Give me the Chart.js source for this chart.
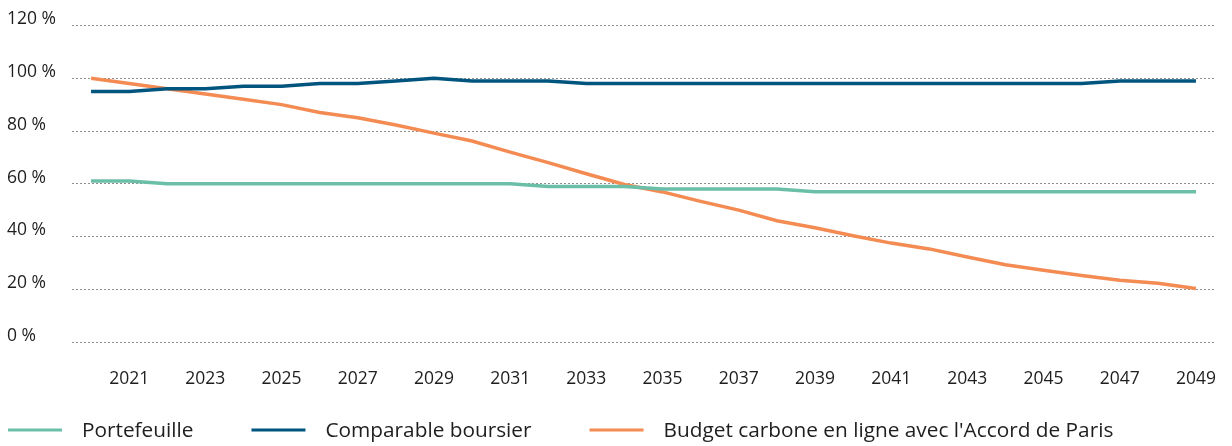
<!DOCTYPE html>
<html>
<head>
<meta charset="utf-8">
<script src="https://cdn.jsdelivr.net/npm/chart.js@4/dist/chart.umd.min.js"></script>
<style>
  html, body { margin: 0; padding: 0; background: #ffffff; }
  #wrap { width: 1232px; height: 446px; position: relative; }
</style>
</head>
<body>
<div id="wrap"><canvas id="chart"></canvas></div>
<script>
// ---- Data ----
const years = ['2020','2021','2022','2023','2024','2025','2026','2027','2028','2029',
               '2030','2031','2032','2033','2034','2035','2036','2037','2038','2039',
               '2040','2041','2042','2043','2044','2045','2046','2047','2048','2049'];
const xTickLabels = ['2021','2023','2025','2027','2029','2031','2033','2035','2037','2039',
                     '2041','2043','2045','2047','2049'];
const yTickValues = [0, 20, 40, 60, 80, 100, 120];

const seriesNames = ['Portefeuille', 'Comparable boursier', "Budget carbone en ligne avec l'Accord de Paris"];

const portefeuille = [61, 61, 60, 60, 60, 60, 60, 60, 60, 60,
                      60, 60, 59, 59, 59, 58, 58, 58, 58, 57,
                      57, 57, 57, 57, 57, 57, 57, 57, 57, 57];
const comparableBoursier = [95, 95, 96, 96, 97, 97, 98, 98, 99, 100,
                            99, 99, 99, 98, 98, 98, 98, 98, 98, 98,
                            98, 98, 98, 98, 98, 98, 98, 99, 99, 99];
const budgetCarbone = [100, 98, 96, 94, 92, 90, 87, 85, 82.3, 79.2,
                       76.2, 72, 68, 63.8, 59.7, 56.9, 53.3, 50, 46, 43.3,
                       40.3, 37.5, 35.3, 32.2, 29.3, 27.2, 25.2, 23.4, 22.3, 20.3];

const colors = ['#6bbfa8', '#00557f', '#f38b53'];

// ---- Styles ----
const FONT = "'Open Sans', 'Noto Sans', sans-serif";
const TEXT_COLOR = '#1e1e1e';

const legendPlugin = {
  id: 'bottomLegend',
  afterDraw(chart, args, opts) {
    const ctx = chart.ctx;
    ctx.save();
    ctx.font = opts.fontSize + 'px ' + FONT;
    ctx.textBaseline = 'middle';
    ctx.textAlign = 'left';
    let x = opts.x;
    const y = opts.y;
    chart.data.datasets.forEach(ds => {
      ctx.strokeStyle = ds.borderColor;
      ctx.lineWidth = opts.lineWidth;
      ctx.beginPath();
      ctx.moveTo(x, y);
      ctx.lineTo(x + opts.sampleWidth, y);
      ctx.stroke();
      x += opts.sampleWidth + opts.textGap;
      ctx.fillStyle = TEXT_COLOR;
      ctx.fillText(ds.label, x, y + 1);
      x += ctx.measureText(ds.label).width + opts.itemGap;
    });
    ctx.restore();
  }
};

const datasets = [portefeuille, comparableBoursier, budgetCarbone].map((vals, i) => ({
  label: seriesNames[i],
  data: vals,
  borderColor: colors[i],
  backgroundColor: colors[i],
  borderWidth: 3.5,
  pointRadius: 0,
  pointHoverRadius: 0,
  tension: 0,
  fill: false
}));

new Chart(document.getElementById('chart'), {
  type: 'line',
  data: { labels: years, datasets },
  plugins: [legendPlugin],
  options: {
    responsive: true,
    maintainAspectRatio: false,
    animation: false,
    layout: { padding: { left: 7, right: 17, top: 24, bottom: 54 } },
    plugins: {
      legend: { display: false },
      tooltip: { enabled: false },
      bottomLegend: { x: 8, y: 430, sampleWidth: 54, textGap: 20, itemGap: 58, lineWidth: 3, fontSize: 20.8 }
    },
    scales: {
      x: {
        type: 'category',
        offset: true,
        grid: { display: false, drawTicks: false },
        border: { display: false },
        afterFit(scale) { scale.height = 50; scale.paddingLeft = 0; scale.paddingRight = 0; },
        ticks: {
          autoSkip: false,
          maxRotation: 0,
          minRotation: 0,
          padding: 27,
          color: TEXT_COLOR,
          font: { family: FONT, size: 17.5 },
          callback(value) {
            const lab = this.getLabelForValue(value);
            return xTickLabels.includes(lab) ? lab : '';
          }
        }
      },
      y: {
        min: 0,
        max: 120,
        afterFit(scale) { scale.width = 65; },
        afterBuildTicks(scale) { scale.ticks = yTickValues.map(v => ({ value: v })); },
        border: { display: false, dash: [2, 2] },
        grid: {
          color: '#8f8f8f',
          lineWidth: 1,
          drawTicks: false
        },
        ticks: {
          crossAlign: 'far',
          labelOffset: -6,
          padding: 15,
          color: TEXT_COLOR,
          font: { family: FONT, size: 17.5 },
          callback(value) { return value + ' %'; }
        }
      }
    }
  },
});
</script>
</body>
</html>
